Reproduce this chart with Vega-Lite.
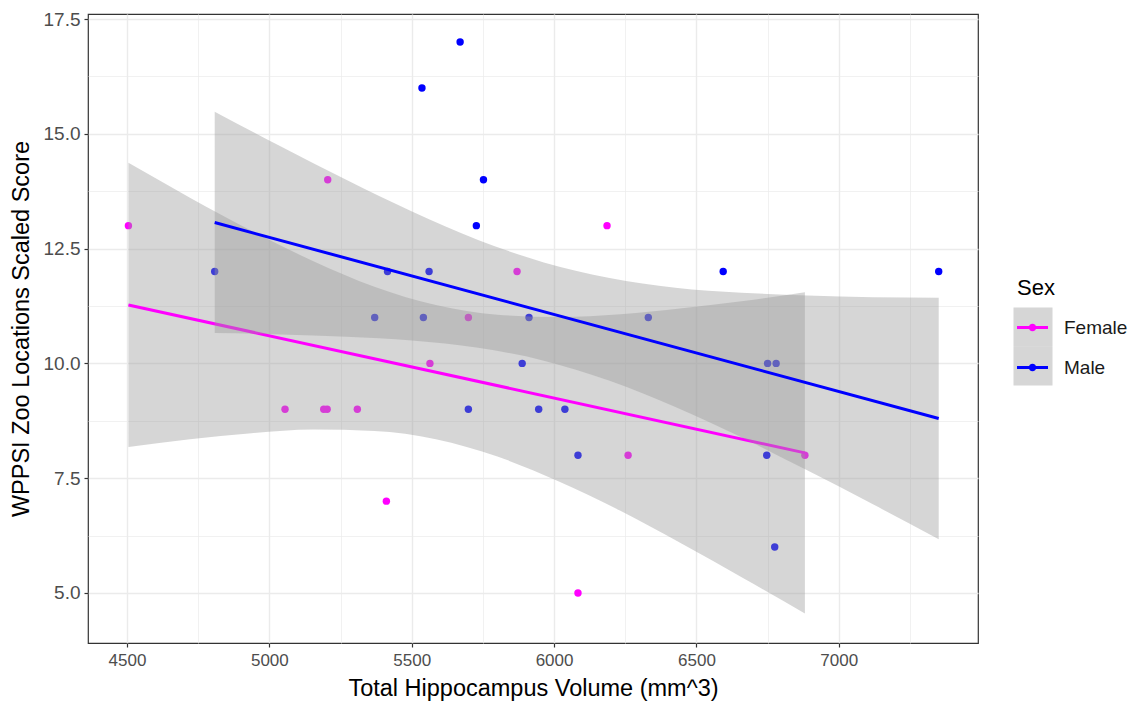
{
  "$schema": "https://vega.github.io/schema/vega-lite/v6.json",
  "autosize": {"type": "none"},
  "padding": {"left": 88, "top": 14, "right": 157, "bottom": 62},
  "width": 890,
  "height": 629,
  "background": "#FFFFFF",
  "config": {
    "view": {"stroke": "#333333", "strokeWidth": 1.2},
    "font": "Liberation Sans"
  },
  "datasets": {
    "pts": [
      {"sex": "Female", "volume": 4505, "score": 13},
      {"sex": "Female", "volume": 5205, "score": 14},
      {"sex": "Female", "volume": 6186, "score": 13},
      {"sex": "Female", "volume": 5870, "score": 12},
      {"sex": "Female", "volume": 5699, "score": 11},
      {"sex": "Female", "volume": 5055, "score": 9},
      {"sex": "Female", "volume": 5191, "score": 9},
      {"sex": "Female", "volume": 5203, "score": 9},
      {"sex": "Female", "volume": 5309, "score": 9},
      {"sex": "Female", "volume": 5411, "score": 7},
      {"sex": "Female", "volume": 5564, "score": 10},
      {"sex": "Female", "volume": 6260, "score": 8},
      {"sex": "Female", "volume": 6084, "score": 5},
      {"sex": "Female", "volume": 6881, "score": 8},
      {"sex": "Male", "volume": 4808, "score": 12},
      {"sex": "Male", "volume": 5370, "score": 11},
      {"sex": "Male", "volume": 5670, "score": 17},
      {"sex": "Male", "volume": 5536, "score": 16},
      {"sex": "Male", "volume": 5752, "score": 14},
      {"sex": "Male", "volume": 5727, "score": 13},
      {"sex": "Male", "volume": 5415, "score": 12},
      {"sex": "Male", "volume": 5561, "score": 12},
      {"sex": "Male", "volume": 5541, "score": 11},
      {"sex": "Male", "volume": 5912, "score": 11},
      {"sex": "Male", "volume": 6331, "score": 11},
      {"sex": "Male", "volume": 6594, "score": 12},
      {"sex": "Male", "volume": 7351, "score": 12},
      {"sex": "Male", "volume": 5888, "score": 10},
      {"sex": "Male", "volume": 5699, "score": 9},
      {"sex": "Male", "volume": 5946, "score": 9},
      {"sex": "Male", "volume": 6038, "score": 9},
      {"sex": "Male", "volume": 6084, "score": 8},
      {"sex": "Male", "volume": 6750, "score": 10},
      {"sex": "Male", "volume": 6780, "score": 10},
      {"sex": "Male", "volume": 6747, "score": 8},
      {"sex": "Male", "volume": 6775, "score": 6}
    ],
    "band": [
      {"sex": "Female", "volume": 4505, "lo": 8.18, "hi": 14.37},
      {"sex": "Female", "volume": 4721, "lo": 8.35, "hi": 13.61},
      {"sex": "Female", "volume": 4937, "lo": 8.48, "hi": 12.89},
      {"sex": "Female", "volume": 5153, "lo": 8.56, "hi": 12.23},
      {"sex": "Female", "volume": 5369, "lo": 8.53, "hi": 11.67},
      {"sex": "Female", "volume": 5585, "lo": 8.35, "hi": 11.27},
      {"sex": "Female", "volume": 5801, "lo": 7.97, "hi": 11.06},
      {"sex": "Female", "volume": 6017, "lo": 7.43, "hi": 11.01},
      {"sex": "Female", "volume": 6233, "lo": 6.79, "hi": 11.07},
      {"sex": "Female", "volume": 6449, "lo": 6.07, "hi": 11.20},
      {"sex": "Female", "volume": 6665, "lo": 5.32, "hi": 11.36},
      {"sex": "Female", "volume": 6881, "lo": 4.55, "hi": 11.55},
      {"sex": "Male", "volume": 4808, "lo": 10.66, "hi": 15.48},
      {"sex": "Male", "volume": 5039, "lo": 10.63, "hi": 14.73},
      {"sex": "Male", "volume": 5270, "lo": 10.58, "hi": 14.00},
      {"sex": "Male", "volume": 5501, "lo": 10.50, "hi": 13.31},
      {"sex": "Male", "volume": 5733, "lo": 10.34, "hi": 12.69},
      {"sex": "Male", "volume": 5964, "lo": 10.06, "hi": 12.20},
      {"sex": "Male", "volume": 6195, "lo": 9.62, "hi": 11.86},
      {"sex": "Male", "volume": 6426, "lo": 9.05, "hi": 11.65},
      {"sex": "Male", "volume": 6658, "lo": 8.39, "hi": 11.54},
      {"sex": "Male", "volume": 6889, "lo": 7.67, "hi": 11.48},
      {"sex": "Male", "volume": 7120, "lo": 6.93, "hi": 11.44},
      {"sex": "Male", "volume": 7351, "lo": 6.17, "hi": 11.43}
    ]
  },
  "layer": [
    {
      "data": {"name": "pts"},
      "mark": {"type": "circle", "size": 55, "opacity": 1},
      "encoding": {
        "x": {
          "field": "volume", "type": "quantitative",
          "title": "Total Hippocampus Volume (mm^3)",
          "scale": {"domain": [4363, 7489], "nice": false, "zero": false},
          "axis": {
            "values": [4500, 4750, 5000, 5250, 5500, 5750, 6000, 6250, 6500, 6750, 7000, 7250],
            "format": "d",
            "labelExpr": "datum.value % 500 === 0 ? datum.label : ''",
            "labelOverlap": false, "labelFlush": false,
            "grid": true, "gridColor": "#EBEBEB",
            "gridWidth": {"condition": {"test": "datum.value % 500 !== 0", "value": 0.7}, "value": 1.4},
            "tickOpacity": {"condition": {"test": "datum.value % 500 !== 0", "value": 0}, "value": 1},
            "tickColor": "#333333", "tickSize": 4, "tickWidth": 1.2,
            "domain": false,
            "labelFont": "Liberation Sans", "labelFontSize": 17, "labelColor": "#4D4D4D", "labelPadding": 5,
            "titleFont": "Liberation Sans", "titleFontSize": 23.5, "titleFontWeight": "normal", "titleColor": "#000000", "titlePadding": 8
          }
        },
        "y": {
          "field": "score", "type": "quantitative",
          "title": "WPPSI Zoo Locations Scaled Score",
          "scale": {"domain": [3.91, 17.61], "nice": false, "zero": false},
          "axis": {
            "values": [5, 6.25, 7.5, 8.75, 10, 11.25, 12.5, 13.75, 15, 16.25, 17.5],
            "format": ".1f",
            "labelExpr": "datum.value % 2.5 === 0 ? datum.label : ''",
            "labelOverlap": false, "labelFlush": false,
            "grid": true, "gridColor": "#EBEBEB",
            "gridWidth": {"condition": {"test": "datum.value % 2.5 !== 0", "value": 0.7}, "value": 1.4},
            "tickOpacity": {"condition": {"test": "datum.value % 2.5 !== 0", "value": 0}, "value": 1},
            "tickColor": "#333333", "tickSize": 4, "tickWidth": 1.2,
            "domain": false,
            "labelFont": "Liberation Sans", "labelFontSize": 19, "labelColor": "#4D4D4D", "labelPadding": 4,
            "titleFont": "Liberation Sans", "titleFontSize": 23.5, "titleFontWeight": "normal", "titleColor": "#000000", "titlePadding": 10
          }
        },
        "color": {
          "field": "sex", "type": "nominal",
          "scale": {"domain": ["Female", "Male"], "range": ["#FF00FF", "#0000FF"]},
          "legend": {
            "orient": "none", "legendX": 929, "legendY": 264,
            "title": "Sex",
            "titleFont": "Liberation Sans", "titleFontSize": 22, "titleFontWeight": "normal", "titleColor": "#000000", "titlePadding": 12,
            "labelFont": "Liberation Sans", "labelFontSize": 19, "labelColor": "#1A1A1A", "labelOffset": 16,
            "symbolType": "M-1,-0.1L1,-0.1L1,0.1L-1,0.1Z M-0.24,0A0.24,0.24 0 1,1 0.24,0A0.24,0.24 0 1,1 -0.24,0Z",
            "symbolSize": 961, "symbolStrokeWidth": 0, "symbolOpacity": 1,
            "rowPadding": 14, "zindex": 2
          }
        }
      }
    },
    {
      "data": {"name": "band"},
      "transform": [{"filter": "datum.sex === 'Female'"}],
      "mark": {"type": "area", "opacity": 0.4, "interpolate": "monotone"},
      "encoding": {
        "x": {"field": "volume", "type": "quantitative", "title": "Total Hippocampus Volume (mm^3)"},
        "y": {"field": "lo", "type": "quantitative", "title": "WPPSI Zoo Locations Scaled Score"},
        "y2": {"field": "hi"},
        "fill": {
          "field": "sex", "type": "nominal",
          "scale": {"domain": ["Male", "Female"], "range": ["#999999", "#999999"]},
          "legend": {
            "orient": "none", "legendX": 925.5, "legendY": 293.5,
            "title": null,
            "symbolType": "square", "symbolSize": 1521, "symbolOpacity": 0.4, "symbolStrokeWidth": 0,
            "symbolFillColor": "#999999",
            "labelExpr": "''", "labelFontSize": 10, "rowPadding": 0, "zindex": 1
          }
        }
      }
    },
    {
      "data": {"name": "pts"},
      "transform": [{"filter": "datum.sex === 'Female'"}, {"regression": "score", "on": "volume"}],
      "mark": {"type": "line", "color": "#FF00FF", "strokeWidth": 3},
      "encoding": {
        "x": {"field": "volume", "type": "quantitative", "title": "Total Hippocampus Volume (mm^3)"},
        "y": {"field": "score", "type": "quantitative", "title": "WPPSI Zoo Locations Scaled Score"}
      }
    },
    {
      "data": {"name": "band"},
      "transform": [{"filter": "datum.sex === 'Male'"}],
      "mark": {"type": "area", "opacity": 0.4, "interpolate": "monotone"},
      "encoding": {
        "x": {"field": "volume", "type": "quantitative", "title": "Total Hippocampus Volume (mm^3)"},
        "y": {"field": "lo", "type": "quantitative", "title": "WPPSI Zoo Locations Scaled Score"},
        "y2": {"field": "hi"},
        "fill": {"field": "sex", "type": "nominal"}
      }
    },
    {
      "data": {"name": "pts"},
      "transform": [{"filter": "datum.sex === 'Male'"}, {"regression": "score", "on": "volume"}],
      "mark": {"type": "line", "color": "#0000FF", "strokeWidth": 3},
      "encoding": {
        "x": {"field": "volume", "type": "quantitative", "title": "Total Hippocampus Volume (mm^3)"},
        "y": {"field": "score", "type": "quantitative", "title": "WPPSI Zoo Locations Scaled Score"}
      }
    }
  ]
}
